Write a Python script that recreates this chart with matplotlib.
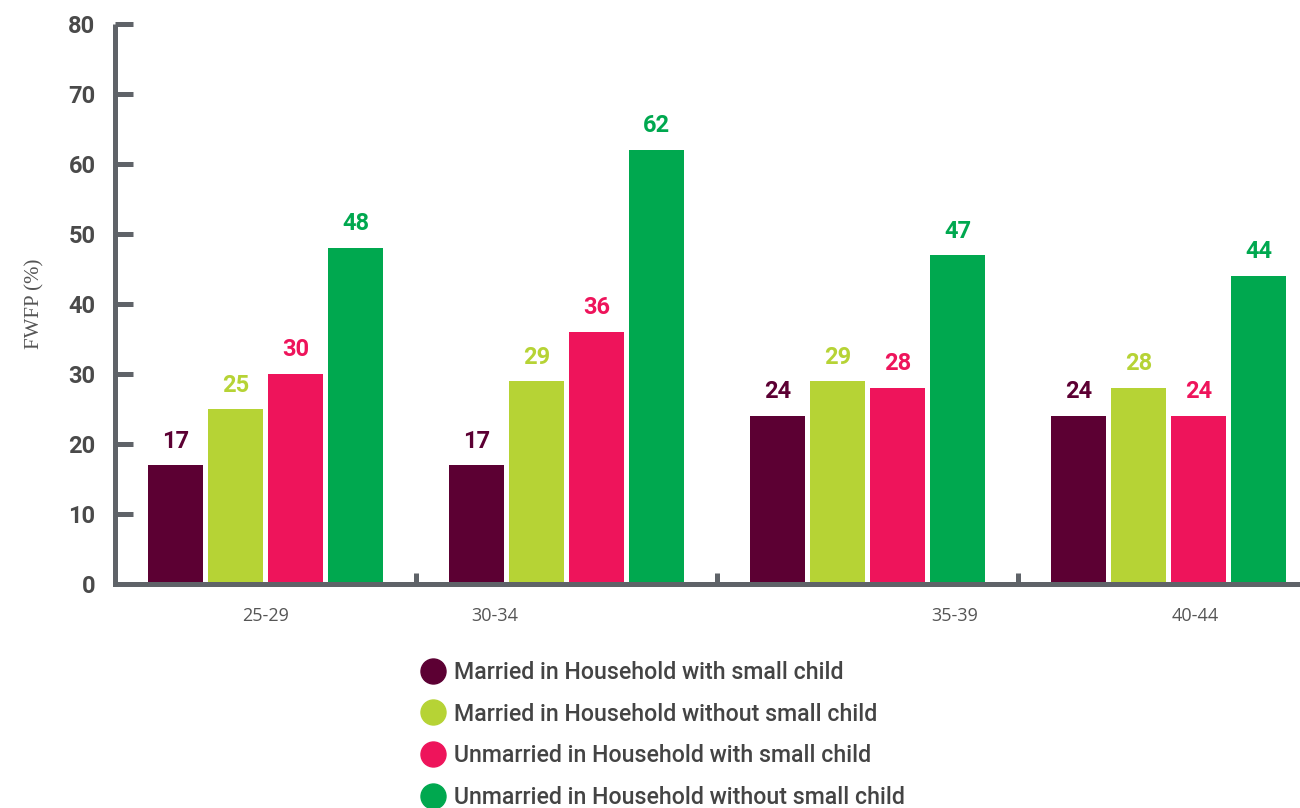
import matplotlib
matplotlib.use("Agg")
import matplotlib.pyplot as plt
from matplotlib.lines import Line2D
import numpy as np

categories = ["25-29", "30-34", "35-39", "40-44"]
series_names = [
    "Married in Household with small child",
    "Married in Household without small child",
    "Unmarried in Household with small child",
    "Unmarried in Household without small child",
]
married_with = [17, 17, 24, 24]
married_without = [25, 29, 29, 28]
unmarried_with = [30, 36, 28, 24]
unmarried_without = [48, 62, 47, 44]
series_values = [married_with, married_without, unmarried_with, unmarried_without]
colors = ["#5c0033", "#b6d335", "#ee145b", "#00a84f"]
yticks = [0, 10, 20, 30, 40, 50, 60, 70, 80]
# label x-offsets (in group units) mimicking the reference's placement
label_offsets = [0.0, -0.24, 0.29, 0.09]

axis_color = "#5f6368"

fig = plt.figure(figsize=(13, 8.08), dpi=100)
ax = fig.add_axes([115 / 1300, 1 - 584 / 808, 1 - 115 / 1300, (584 - 24) / 808])

x = np.arange(len(categories))
step = 60 / 301
width = 55 / 301
for i, (vals, col) in enumerate(zip(series_values, colors)):
    pos = x + (i - 1.5) * step
    ax.bar(pos, vals, width=width, color=col, zorder=2)
    for px, v in zip(pos, vals):
        ax.annotate(str(v), (px, v), xytext=(0, 9), textcoords="offset points",
                    ha="center", va="bottom", color=col, fontsize=17,
                    fontweight="bold", family="Roboto")

ax.set_xlim(-0.5, 3.5 - 19 / 301)
ax.set_ylim(0, 80)

for s in ["top", "right"]:
    ax.spines[s].set_visible(False)
for s in ["left", "bottom"]:
    ax.spines[s].set_color(axis_color)
    ax.spines[s].set_linewidth(3.6)
    ax.spines[s].set_zorder(3)
ax.spines["left"].set_capstyle("butt")

ax.set_yticks(yticks)
ax.tick_params(axis="y", direction="in", length=13, width=3.6, color=axis_color,
               pad=14, labelsize=17, labelcolor="#4a4a4a")
for lab in ax.get_yticklabels():
    lab.set_fontweight("bold")
    lab.set_family("Roboto")

# group separator ticks
ax.set_xticks([0.5, 1.5, 2.5])
ax.set_xticklabels([])
ax.tick_params(axis="x", direction="in", length=8, width=3.6, color=axis_color)

for xi, cat, off in zip(x, categories, label_offsets):
    ax.text(xi + off, -4.6, cat, ha="center", va="center", fontsize=13,
            color="#555555", family="Open Sans")

fig.text(35 / 1300, 1 - 304 / 808, "FWFP (%)", rotation=90, ha="center", va="center",
         fontsize=15, color="#555555", family="Liberation Serif")

handles = [Line2D([], [], marker="o", linestyle="none", markersize=18,
                  markerfacecolor=c, markeredgecolor=c) for c in colors]
leg = fig.legend(handles, series_names, loc="upper left",
                 bbox_to_anchor=(419 / 1300, 1 - 661 / 808), frameon=False,
                 handletextpad=0.32, labelspacing=0.8, handlelength=1.2,
                 borderaxespad=0, borderpad=0,
                 prop={"family": "Roboto", "weight": "medium", "size": 16.7})
for t in leg.get_texts():
    t.set_color("#444444")

fig.savefig("out.png", dpi=100)
